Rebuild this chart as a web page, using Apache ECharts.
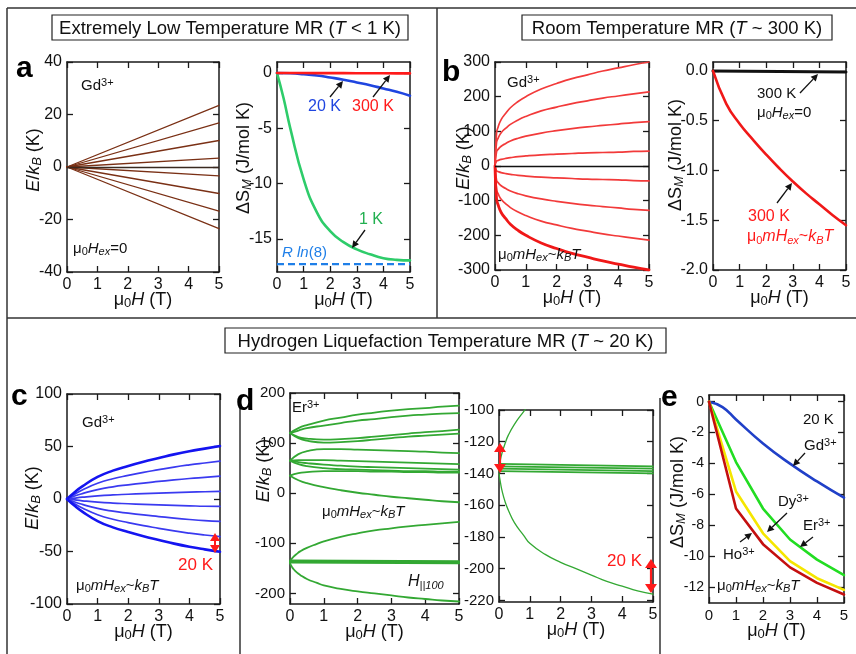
<!DOCTYPE html>
<html><head><meta charset="utf-8">
<script src="https://cdn.jsdelivr.net/npm/echarts@6/dist/echarts.min.js"></script>
<style>html,body{margin:0;padding:0;background:#fff}#c{width:856px;height:654px}</style>
</head><body><div id="c"></div>
<script>
// ================= DATA =================
const fieldTicks = [0, 1, 2, 3, 4, 5];
// (a) left: Gd3+ Zeeman levels, value at 5 T (start at 0 T, 0 K)
const aLevelEnds = [23.5, 16.8, 10.1, 3.4, -3.4, -10.1, -16.8, -23.5];
// (a) right: entropy change
const aSx = [0, 0.5, 1, 1.5, 2, 2.5, 3, 3.5, 4, 4.5, 5];
const aS300 = [0, 0, 0, -0.01, -0.01, -0.01, -0.02, -0.02, -0.02, -0.03, -0.03];
const aS20 = [0, -0.02, -0.1, -0.22, -0.4, -0.6, -0.85, -1.1, -1.4, -1.7, -2.05];
const aS1x = [0, 0.25, 0.5, 1, 1.5, 2, 2.5, 3, 3.5, 4, 4.5, 5];
const aS1 = [0, -2.3, -5.0, -9.6, -12.6, -14.3, -15.3, -15.95, -16.4, -16.75, -16.9, -16.95];
const aRln8 = -17.29;
// (b) left: Gd3+ levels with exchange field, 300 K
const bx = [0, 0.05, 0.1, 0.2, 0.35, 0.5, 0.75, 1, 1.5, 2, 2.5, 3, 3.5, 4, 4.5, 5];
const b1 = [0, 95, 112, 134, 152, 168, 186, 200, 222, 238, 252, 263, 274, 283, 292, 300];
const b2 = [0, 68, 80, 96, 109, 120, 133, 143, 159, 170, 180, 188, 196, 202, 208, 214];
const b3 = [0, 41, 48, 57, 65, 72, 80, 86, 95, 102, 108, 113, 117, 121, 125, 128];
const b4 = [0, 14, 16, 19, 22, 24, 27, 29, 32, 34, 36, 38, 39, 40, 42, 43];
const b5 = [0, -14, -16, -19, -22, -24, -27, -29, -32, -34, -36, -38, -39, -40, -42, -43];
const b6 = [0, -41, -48, -57, -65, -72, -80, -86, -95, -102, -108, -113, -117, -121, -125, -128];
const b7 = [0, -68, -80, -96, -109, -120, -133, -143, -159, -170, -180, -188, -196, -202, -208, -214];
const b8 = [0, -95, -112, -134, -152, -168, -186, -200, -222, -238, -252, -263, -274, -283, -292, -300];
// (b) right
const bSx = [0, 0.5, 1, 1.5, 2, 2.5, 3, 3.5, 4, 4.5, 5];
const bSex = [0, -0.33, -0.53, -0.69, -0.84, -0.98, -1.11, -1.23, -1.34, -1.45, -1.55];
const bS0x = [0, 5];
const bS0 = [0, -0.01];
// (c) Gd3+ levels, 20 K
const cx = [0, 0.25, 0.5, 1, 1.5, 2, 2.5, 3, 3.5, 4, 4.5, 5];
const c1 = [0, 6.5, 12, 21, 27, 31.5, 35.5, 39, 42.5, 45.5, 48, 50.5];
const c2 = [0, 4.6, 8.6, 15, 19.3, 22.5, 25.4, 27.9, 30.4, 32.5, 34.3, 36];
const c3 = [0, 2.8, 5.1, 9, 11.6, 13.5, 15.2, 16.7, 18.2, 19.5, 20.6, 21.7];
const c4 = [0, 0.9, 1.7, 3, 3.9, 4.5, 5.1, 5.6, 6.1, 6.5, 6.9, 7.2];
const c5 = [0, -0.9, -1.7, -3, -3.9, -4.5, -5.1, -5.6, -6.1, -6.5, -6.9, -7.0];
const c6 = [0, -2.8, -5.1, -9, -11.6, -13.5, -15.2, -16.7, -18.2, -19.5, -20.6, -21.4];
const c7 = [0, -4.6, -8.6, -15, -19.3, -22.5, -25.4, -27.9, -30.4, -32.5, -34.3, -35.9];
const c8 = [0, -6.5, -12, -21, -27, -31.5, -35.5, -39, -42.5, -45.5, -48, -50.2];
// (d) Er3+ levels, 20 K
const dx = [0, 0.25, 0.5, 1, 1.5, 2, 2.5, 3, 3.5, 4, 4.5, 5];
const d1 = [120, 130, 136, 145, 151, 157, 161, 165, 168, 170, 173, 175];
const d2 = [120, 125, 130, 135, 140, 145, 148, 152, 155, 157, 159, 160];
const d3 = [120, 112, 109, 107, 108, 110, 113, 116, 119, 122, 124, 127];
const d4 = [120, 110, 105, 101, 102, 104, 107, 110, 113, 115, 117, 119];
const e1 = [65, 78, 84, 88, 88, 87, 86, 85, 84, 83, 81, 80];
const e2 = [65, 66, 66, 66, 65, 64, 63, 62, 61, 60, 59, 58];
const e3 = [65, 62, 60, 57, 55, 53, 52, 51, 50, 49, 48, 47];
const e4 = [65, 58, 54, 50, 48, 47, 46, 45, 44, 44, 43, 43];
const f1 = [35, 40, 42, 44, 44, 44, 43, 43, 42, 42, 41, 41];
const f2 = [35, 26, 20, 12, 6, 1, -3, -7, -10, -13, -16, -18];
const gx = [0, 0.05, 0.1, 0.2, 0.3, 0.5, 0.8, 1, 1.5, 2, 2.5, 3, 3.5, 4, 4.5, 5];
const gUp = [-138, -131, -127, -121, -116, -109, -101, -96, -87, -80, -74, -70, -66, -63, -60, -57];
const gDn = [-140, -146, -151, -158, -163, -171, -179, -184, -191, -196, -200, -204, -208, -211, -214, -216];
const hx = [0, 5];
const h1 = [-134, -135.5];
const h2 = [-135.5, -137];
const h3 = [-137, -138.5];
const h4 = [-138.5, -140];
// (e) entropy change at 20 K
const eGdx = [0, 0.5, 1, 2, 3, 4, 5];
const eGd = [0, -0.35, -1.15, -2.7, -4.0, -5.15, -6.2];
const eX = [0, 1, 2, 3, 4, 5];
const eEr = [0, -3.9, -6.9, -8.9, -10.2, -11.2];
const eDy = [0, -5.8, -8.5, -10.3, -11.4, -12.15];
const eHo = [0, -6.9, -9.2, -10.7, -11.7, -12.45];
// y tick values
const yTicksA1 = [-40, -20, 0, 20, 40];
const yTicksA2 = [-15, -10, -5, 0];
const yTicksB1 = [-300, -200, -100, 0, 100, 200, 300];
const yTicksB2 = [-2.0, -1.5, -1.0, -0.5, 0.0];
const yTicksC = [-100, -50, 0, 50, 100];
const yTicksD1 = [-200, -100, 0, 100, 200];
const yTicksD2 = [-220, -200, -180, -160, -140, -120, -100];
const yTicksE = [-12, -10, -8, -6, -4, -2, 0];

// ================= STYLE / HELPERS =================
const FF = '"Liberation Sans", Arial, Helvetica, sans-serif';
const AX = '#1a1a1a';
const pairs = (xs, ys) => xs.map((x, i) => [x, ys[i]]);

function richSet(size, color, key) {
  const sub = Math.round(size * 0.7);
  const mk = (o) => { const r = Object.assign({fontFamily: FF}, o); r[key] = color; return r; };
  return {
    n: mk({fontSize: size, lineHeight: size + 2}),
    i: mk({fontSize: size, fontStyle: 'italic', lineHeight: size + 2}),
    s: mk({fontSize: sub, lineHeight: Math.round(size * 0.5), verticalAlign: 'bottom'}),
    si: mk({fontSize: sub, fontStyle: 'italic', lineHeight: Math.round(size * 0.5), verticalAlign: 'bottom'}),
    u: mk({fontSize: sub, lineHeight: Math.round(size * 0.5), verticalAlign: 'top'})
  };
}

const NAME_X = '{n|μ}{s|0}{i|H}{n| (T)}';
const NAME_E = '{i|E}{n|/}{i|k}{si|B}{n| (K)}';
const NAME_S = '{n|ΔS}{si|M}{n| (J/mol K)}';
const T_EX = '{n|μ}{s|0}{i|mH}{si|ex}{n|~}{i|k}{si|B}{i|T}';
const T_H0 = '{n|μ}{s|0}{i|H}{si|ex}{n|=0}';

const grids = [
  {left: 67, top: 62, width: 152, height: 210},   // a left
  {left: 277, top: 62, width: 133, height: 210},  // a right
  {left: 495, top: 62, width: 154, height: 208},  // b left
  {left: 713, top: 62, width: 133, height: 208},  // b right
  {left: 67, top: 394, width: 153, height: 210},  // c
  {left: 290, top: 393, width: 169, height: 211}, // d left
  {left: 499, top: 410, width: 154, height: 192}, // d right
  {left: 709, top: 395, width: 135, height: 208}  // e
];
// shift: move y-axis name upward by this many px
const ySpec = [
  {min: -40, max: 40, ticks: yTicksA1, name: NAME_E, gap: 23, fs: 16, shift: 7},
  {min: -18, max: 1, ticks: yTicksA2, name: NAME_S, gap: 23, fs: 16, shift: 9},
  {min: -300, max: 300, ticks: yTicksB1, name: NAME_E, gap: 21, fs: 16, shift: 8},
  {min: -2, max: 0.09, ticks: yTicksB2, name: NAME_S, gap: 27, fs: 16, shift: 11, fmt: v => v.toFixed(1)},
  {min: -100, max: 100, ticks: yTicksC, name: NAME_E, gap: 24, fs: 16, shift: 1},
  {min: -221, max: 200, ticks: yTicksD1, name: NAME_E, gap: 16, fs: 15, shift: 28},
  {min: -221, max: -100, ticks: yTicksD2, name: '', gap: 20, fs: 15, shift: 0},
  {min: -13, max: 0.43, ticks: yTicksE, name: NAME_S, gap: 21, fs: 14, shift: 7}
];

const lineAx = {show: true, onZero: false, lineStyle: {color: AX, width: 1.5}};
const tickAx = {inside: true, length: 6, lineStyle: {color: AX, width: 1.3}};
const xAxes = [], yAxes = [];
grids.forEach((g, gi) => {
  const s = ySpec[gi];
  ['bottom', 'top'].forEach(pos => {
    xAxes.push({
      type: 'value', gridIndex: gi, position: pos, min: 0, max: 5, interval: 1,
      axisLine: lineAx, axisTick: tickAx, splitLine: {show: false},
      axisLabel: {show: pos === 'bottom', fontSize: gi === 7 ? 15 : 16, color: '#111', fontFamily: FF, margin: 5,
        customValues: fieldTicks},
      name: pos === 'bottom' ? NAME_X : '', nameLocation: 'middle', nameGap: 18, nameMoveOverlap: false,
      nameTextStyle: {rich: richSet(18, '#111', 'color')}
    });
  });
  ['left', 'right'].forEach(pos => {
    yAxes.push({
      type: 'value', gridIndex: gi, position: pos, min: s.min, max: s.max,
      axisLine: lineAx, splitLine: {show: false},
      axisTick: Object.assign({customValues: s.ticks}, tickAx),
      axisLabel: {show: pos === 'left', fontSize: s.fs, color: '#111', fontFamily: FF, margin: 5,
        customValues: s.ticks, formatter: s.fmt || (v => String(v))},
      name: pos === 'left' ? s.name : '', nameLocation: 'middle', nameGap: s.gap, nameRotate: 90,
      nameMoveOverlap: false,
      nameTextStyle: {rich: richSet(18, '#111', 'color'), padding: [0, 0, 0, 2 * s.shift]}
    });
  });
});

const series = [];
function addLine(gi, data, color, width, extra) {
  series.push(Object.assign({
    type: 'line', xAxisIndex: gi * 2, yAxisIndex: gi * 2, data: data,
    showSymbol: false, symbol: 'none', clip: true, animation: false, silent: true,
    lineStyle: {color: color, width: width, join: 'round', cap: 'round'}, itemStyle: {color: color}, z: 3
  }, extra || {}));
}
const SM = {smooth: true};
// a left
aLevelEnds.forEach((v, i) => addLine(0, [[0, 0], [5, v]], '#7a3015', 1.3,
  i === 0 ? {markLine: {silent: true, symbol: 'none', label: {show: false}, animation: false,
    lineStyle: {color: '#3a2a20', width: 1.3, type: 'solid'}, data: [{yAxis: 0}]}} : {}));
// a right
addLine(1, [[0, aRln8], [5, aRln8]], '#1f7fe8', 2.2, {lineStyle: {color: '#1f7fe8', width: 2.2, type: [7, 4]}});
addLine(1, pairs(aS1x, aS1), '#2ecc6a', 2.6, SM);
addLine(1, pairs(aSx, aS20), '#1f45e0', 2.6, SM);
addLine(1, pairs(aSx, aS300), '#ff1a1a', 2.6);
// b left
[b1, b2, b3, b4, b5, b6, b7].forEach(arr => addLine(2, pairs(bx, arr), '#f23a3a', 1.7, SM));
addLine(2, pairs(bx, b8), '#f01818', 2.8, Object.assign({markLine: {silent: true, symbol: 'none', label: {show: false}, animation: false,
  lineStyle: {color: '#111', width: 1.3, type: 'solid'}, data: [{yAxis: 0}]}}, SM));
// b right
addLine(3, pairs(bS0x, bS0), '#111', 3);
addLine(3, pairs(bSx, bSex), '#f01818', 2.6, SM);
// c
[c2, c3, c4, c5, c6, c7].forEach(arr => addLine(4, pairs(cx, arr), '#3a3af0', 1.7, SM));
[c1, c8].forEach(arr => addLine(4, pairs(cx, arr), '#1414f0', 2.6, SM));
// d left + d right (same levels)
[5, 6].forEach(gi => {
  [d1, d2, d3, d4, e1, e2, e3, e4, f1, f2].forEach(arr => addLine(gi, pairs(dx, arr), '#33a833', 1.8, SM));
  addLine(gi, pairs(gx, gUp), '#33a833', gi === 6 ? 1.3 : 1.8, SM);
  addLine(gi, pairs(gx, gDn), '#33a833', gi === 6 ? 1.3 : 1.8, SM);
  [h1, h2, h3, h4].forEach(arr => addLine(gi, pairs(hx, arr), '#33a833', 1.8));
});
// e
addLine(7, pairs(eGdx, eGd), '#2040c8', 2.6, SM);
addLine(7, pairs(eX, eEr), '#22dd22', 2.6);
addLine(7, pairs(eX, eDy), '#f5e600', 2.6);
addLine(7, pairs(eX, eHo), '#c40f0f', 2.6);

// ================= ANNOTATIONS =================
const graphic = [];
function txt(x, y, text, size, color, align) {
  graphic.push({type: 'text', x: x, y: y, z: 100, silent: true,
    style: {text: text, rich: richSet(size, color, 'fill'), fill: color, fontSize: size, fontFamily: FF,
      align: align || 'left', verticalAlign: 'middle'}});
}
function arrow(x1, y1, x2, y2, color, w, hl, hw, both) {
  const a = Math.atan2(y2 - y1, x2 - x1), c = Math.cos(a), s = Math.sin(a);
  const bx2 = x2 - hl * c, by2 = y2 - hl * s;
  let sx = x1, sy = y1;
  if (both) { sx = x1 + hl * c; sy = y1 + hl * s;
    graphic.push({type: 'polygon', z: 100, silent: true, shape: {points: [[x1, y1], [sx - hw * s, sy + hw * c], [sx + hw * s, sy - hw * c]]}, style: {fill: color}});
  }
  graphic.push({type: 'line', z: 100, silent: true, shape: {x1: sx, y1: sy, x2: bx2, y2: by2}, style: {stroke: color, lineWidth: w}});
  graphic.push({type: 'polygon', z: 100, silent: true, shape: {points: [[x2, y2], [bx2 - hw * s, by2 + hw * c], [bx2 + hw * s, by2 - hw * c]]}, style: {fill: color}});
}
function hline(x1, x2, y) { graphic.push({type: 'line', z: 90, silent: true, shape: {x1: x1, y1: y, x2: x2, y2: y}, style: {stroke: '#333', lineWidth: 1.5}}); }
function vline(x, y1, y2) { graphic.push({type: 'line', z: 90, silent: true, shape: {x1: x, y1: y1, x2: x, y2: y2}, style: {stroke: '#333', lineWidth: 1.5}}); }
function titleBox(x, y, w, h, text) {
  graphic.push({type: 'rect', z: 95, silent: true, shape: {x: x, y: y, width: w, height: h}, style: {fill: '#fff', stroke: '#222', lineWidth: 1.2}});
  txt(x + w / 2, y + h / 2 + 1, text, 18.5, '#111', 'center');
}
function letter(x, y, t) {
  graphic.push({type: 'text', x: x, y: y, z: 100, silent: true,
    style: {text: t, fill: '#000', font: 'bold 30px ' + FF, verticalAlign: 'alphabetic', align: 'left'}});
}
// frame
hline(7, 856, 8); vline(7, 8, 654); vline(437, 8, 318); hline(7, 856, 318);
vline(240, 397, 654); vline(660, 398, 654);
titleBox(52, 15, 356, 25, '{n|Extremely Low Temperature MR (}{i|T}{n| < 1 K)}');
titleBox(522, 15, 310, 25, '{n|Room Temperature MR (}{i|T}{n| ~ 300 K)}');
titleBox(225, 328, 441, 25, '{n|Hydrogen Liquefaction Temperature MR (}{i|T}{n| ~ 20 K)}');
letter(16, 54, 'a'); letter(442, 58, 'b'); letter(11, 382, 'c'); letter(236, 387, 'd'); letter(661, 383, 'e');
// a
txt(81, 86, '{n|Gd}{u|3+}', 15, '#111');
txt(73, 249, T_H0, 15, '#111');
txt(308, 107, '{n|20 K}', 16, '#1f45e0');
txt(352, 107, '{n|300 K}', 16, '#ff1a1a');
txt(359, 220, '{n|1 K}', 16, '#22b050');
txt(282, 253, '{i|R ln}{n|(8)}', 15, '#1f7fe8');
arrow(330, 97, 343, 81, '#111', 1.3, 7, 3.5);
arrow(373, 97, 390, 75, '#111', 1.3, 7, 3.5);
arrow(365, 230, 352, 248, '#111', 1.3, 7, 3.5);
// b
txt(507, 83, '{n|Gd}{u|3+}', 15, '#111');
txt(498, 255, T_EX, 15, '#111');
txt(757, 94, '{n|300 K}', 15, '#111');
txt(757, 113, T_H0, 15, '#111');
arrow(800, 93, 818, 74, '#111', 1.3, 7, 3.5);
txt(748, 217, '{n|300 K}', 16, '#ff1a1a');
txt(747, 237, T_EX, 16, '#ff1a1a');
arrow(777, 203, 792, 183, '#111', 1.3, 7, 3.5);
// c
txt(82, 423, '{n|Gd}{u|3+}', 15, '#111');
txt(76, 586, T_EX, 15, '#111');
txt(178, 565, '{n|20 K}', 17, '#ff1a1a');
arrow(215, 533, 215, 553, '#ff1a1a', 2, 8, 5, true);
// d
txt(292, 408, '{n|Er}{u|3+}', 15, '#111');
txt(322, 512, T_EX, 15, '#111');
txt(408, 582, '{i|H}{si|||100}', 16, '#111');
txt(607, 561, '{n|20 K}', 17, '#ff1a1a');
arrow(500, 443, 500, 473, '#ff1a1a', 2.2, 9, 6, true);
arrow(651, 559, 651, 593, '#ff1a1a', 2.2, 9, 6, true);
// e
txt(803, 420, '{n|20 K}', 15, '#111');
txt(804, 446, '{n|Gd}{u|3+}', 15, '#111');
txt(778, 502, '{n|Dy}{u|3+}', 15, '#111');
txt(803, 526, '{n|Er}{u|3+}', 15, '#111');
txt(723, 555, '{n|Ho}{u|3+}', 15, '#111');
txt(717, 586, T_EX, 15, '#111');
arrow(805, 453, 793, 466, '#111', 1.3, 7, 3.5);
arrow(787, 513, 767, 532, '#111', 1.3, 7, 3.5);
arrow(813, 537, 800, 547, '#111', 1.3, 7, 3.5);
arrow(740, 542, 752, 533, '#111', 1.3, 7, 3.5);

const chart = echarts.init(document.getElementById('c'), null, {renderer: 'canvas'});
chart.setOption({
  animation: false,
  backgroundColor: '#fff',
  grid: grids,
  xAxis: xAxes,
  yAxis: yAxes,
  series: series,
  graphic: graphic
});
</script>
</body></html>
